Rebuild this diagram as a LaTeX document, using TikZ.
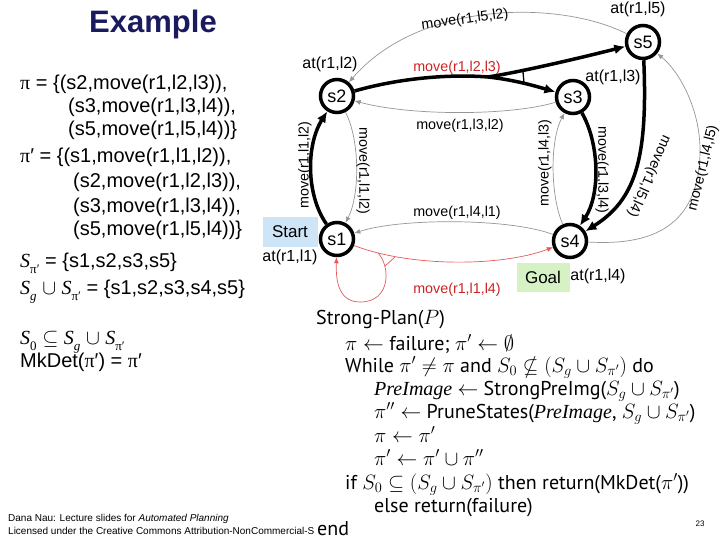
\documentclass[tikz,border=0pt]{standalone}
\usepackage{fontspec}
\usepackage{amsmath,amssymb}
\setmainfont{Liberation Sans}
\newfontfamily\lserif{Liberation Serif}
\newfontfamily\algfont{PT Sans}
\usetikzlibrary{arrows.meta}
\definecolor{navy}{RGB}{26,26,94}
\definecolor{edgegray}{RGB}{150,150,150}
\definecolor{lred}{RGB}{228,90,90}
\definecolor{dred}{RGB}{205,35,35}
\definecolor{startblue}{RGB}{205,229,246}
\definecolor{goalgreen}{RGB}{214,242,196}
\newcommand\upi{{\lserif π}}
\newcommand\Spi{{\lserif\itshape S}\raisebox{-0.3em}{\fontsize{13}{13}\lserif π′}}
\newcommand\Sg{{\lserif\itshape S}\raisebox{-0.3em}{\fontsize{13}{13}\lserif\itshape g}}
\newcommand\Szero{{\lserif\itshape S}\raisebox{-0.3em}{\fontsize{13}{13}\lserif 0}}
\newcommand\preimg{{\lserif\itshape PreImage}}
\tikzset{
  state/.style={circle, draw, line width=3.5pt, fill=white, minimum size=33pt, inner sep=0pt, font=\fontsize{18}{18}\selectfont},
  thickedge/.style={line width=3.5pt, -{Latex[length=11pt,width=10pt]}},
  thinedge/.style={draw=edgegray, line width=0.7pt, -{Latex[length=6pt,width=5pt]}},
  rededge/.style={draw=lred, line width=0.7pt, -{Latex[length=6pt,width=5pt]}},
  lbl/.style={font=\fontsize{14.3}{14.3}\selectfont, inner sep=0pt},
  atlbl/.style={font=\fontsize{16}{16}\selectfont, inner sep=0pt},
  lefttxt/.style={anchor=base west, inner sep=0pt, font=\fontsize{20}{20}\selectfont},
  algtxt/.style={anchor=base west, inner sep=0pt, font=\algfont\fontsize{20}{20}\selectfont},
  boxlbl/.style={inner sep=0pt, font=\fontsize{17}{17}\selectfont, minimum width=55pt, minimum height=29pt}
}
\begin{document}
\begin{tikzpicture}[x=1pt,y=-1pt]
\useasboundingbox[fill=white] (0,0) rectangle (720,540);

% title
\node[font=\bfseries\fontsize{31}{31}\selectfont, text=navy] (title) at (153,24) {Example};

% left text
\node[lefttxt] (l1) at (20,90) {\upi\ = \{(s2,move(r1,l2,l3)),};
\node[lefttxt] (l2) at (68,113) {(s3,move(r1,l3,l4)),};
\node[lefttxt] (l3) at (68,136) {(s5,move(r1,l5,l4))\}};
\node[lefttxt] (l4) at (20,163) {\upi′ = \{(s1,move(r1,l1,l2)),};
\node[lefttxt] (l5) at (73,188) {(s2,move(r1,l2,l3)),};
\node[lefttxt] (l6) at (73,212) {(s3,move(r1,l3,l4)),};
\node[lefttxt] (l7) at (73,236) {(s5,move(r1,l5,l4))\}};
\node[lefttxt] (l8) at (20,267) {\Spi\ = \{s1,s2,s3,s5\}};
\node[lefttxt] (l9) at (20,294) {\Sg\ $\cup$ \Spi\ = \{s1,s2,s3,s4,s5\}};
\node[lefttxt] (l10) at (20,344) {\Szero\ $\subseteq$ \Sg\ $\cup$ \Spi};
\node[lefttxt] (l11) at (20,367) {MkDet(\upi′) = \upi′};

% boxes
\node[boxlbl, fill=startblue] (start) at (290,232) {Start};
\node[boxlbl, fill=goalgreen, minimum width=53pt] (goal) at (543,277) {Goal};

% states
\node[state] (s2) at (337,96) {s2};
\node[state] (s3) at (573,97) {s3};
\node[state] (s5) at (643,42) {s5};
\node[state] (s1) at (337,239) {s1};
\node[state] (s4) at (570,241) {s4};

% at labels
\node[atlbl] (a2) at (330,64) {at(r1,l2)};
\node[atlbl] (a3) at (613,77) {at(r1,l3)};
\node[atlbl] (a5) at (638,9) {at(r1,l5)};
\node[atlbl] (a1) at (290,257) {at(r1,l1)};
\node[atlbl] (a4) at (598,276) {at(r1,l4)};

% thin gray edges
\draw[thinedge] (s2) .. controls (360,140) and (360,195) .. (s1);
\draw[thinedge] (s3) .. controls (510,116) and (410,116) .. (s2);
\draw[thinedge] (s5) .. controls (560,0) and (420,0) .. (s2);
\draw[thinedge] (s4) .. controls (550,195) and (550,140) .. (s3);
\draw[thinedge] (s4) .. controls (640,245) and (700,235) .. (700,150) .. controls (700,110) and (680,72) .. (s5);
\draw[thinedge] (s4) .. controls (510,218) and (400,218) .. (s1);

% red edges
\draw[rededge] (s1) .. controls (410,267) and (500,267) .. (s4);
\coordinate (lp) at (378,253);
\draw[rededge] (lp) .. controls (390,265) and (392,302) .. (360,302) .. controls (336,302) and (336,275) .. (s1);
\draw[draw=lred, line width=0.7pt] (385,266) -- (395,257);

% thick edges
\draw[thickedge] (s1) .. controls (306,195) and (306,145) .. (s2);
\coordinate (sp) at (488,77);
\draw[thickedge] (s2) .. controls (400,78) and (450,74) .. (sp) .. controls (515,80) and (535,86) .. (s3);
\draw[thickedge] (sp) .. controls (520,72) and (580,58) .. (s5);
\draw[line width=1.3pt] (523,72) -- (524,83);
\draw[thickedge] (s3) .. controls (600,145) and (600,195) .. (s4);
\draw[thickedge] (s5) .. controls (648,160) and (635,200) .. (s4);

% edge labels
\node[lbl, rotate=90] (e12) at (305,165) {move(r1,l1,l2)};
\node[lbl, rotate=-90] (e21) at (363,171) {move(r1,l1,l2)};
\node[lbl, text=dred] (e23) at (457,68) {move(r1,l2,l3)};
\node[lbl] (e32) at (460,126) {move(r1,l3,l2)};
\node[lbl, rotate=8] (e52) at (465,20) {move(r1,l5,l2)};
\node[lbl, rotate=90] (e43) at (545,163) {move(r1,l4,l3)};
\node[lbl, rotate=-90] (e34) at (602,170) {move(r1,l3,l4)};
\node[lbl, rotate=-114] (e54) at (649,176) {move(r1,l5,l4)};
\node[lbl, rotate=76] (e45) at (703,168) {move(r1,l4,l5)};
\node[lbl] (e41) at (457,213) {move(r1,l4,l1)};
\node[lbl, text=dred] (e14) at (457,290) {move(r1,l1,l4)};

% footer
\begin{scope}
\clip (0,505) rectangle (313,540);
\node[anchor=base west, inner sep=0pt, font=\fontsize{10}{10}\selectfont] (f1) at (8,521) {Dana Nau: Lecture slides for \textit{Automated Planning}};
\node[anchor=base west, inner sep=0pt, font=\fontsize{10}{10}\selectfont] (f2) at (8,534) {Licensed under the Creative Commons Attribution-NonCommercial-ShareAlike License};
\end{scope}
\node[font=\fontsize{8}{8}\selectfont, inner sep=0pt] (pg) at (700,524) {23};

% algorithm
\node[algtxt] (g1) at (316,324) {Strong-Plan($P$)};
\node[algtxt] (g2) at (345,350) {$\pi\leftarrow$ failure; $\pi'\leftarrow\emptyset$};
\node[algtxt] (g3) at (345,372) {While $\pi'\neq\pi$ and $S_0\nsubseteq(S_g\cup S_{\pi'})$ do};
\node[algtxt] (g4) at (374,395) {\preimg\ $\leftarrow$ StrongPreImg($S_g\cup S_{\pi'}$)};
\node[algtxt] (g5) at (374,418) {$\pi''\leftarrow$ PruneStates(\preimg, $S_g\cup S_{\pi'}$)};
\node[algtxt] (g6) at (374,442) {$\pi\leftarrow\pi'$};
\node[algtxt] (g7) at (374,465) {$\pi'\leftarrow\pi'\cup\pi''$};
\node[algtxt] (g8) at (345,489) {if $S_0\subseteq(S_g\cup S_{\pi'})$ then return(MkDet($\pi'$))};
\node[algtxt] (g9) at (374,512) {else return(failure)};
\node[algtxt] (g10) at (317,535) {end};
\end{tikzpicture}
\end{document}
